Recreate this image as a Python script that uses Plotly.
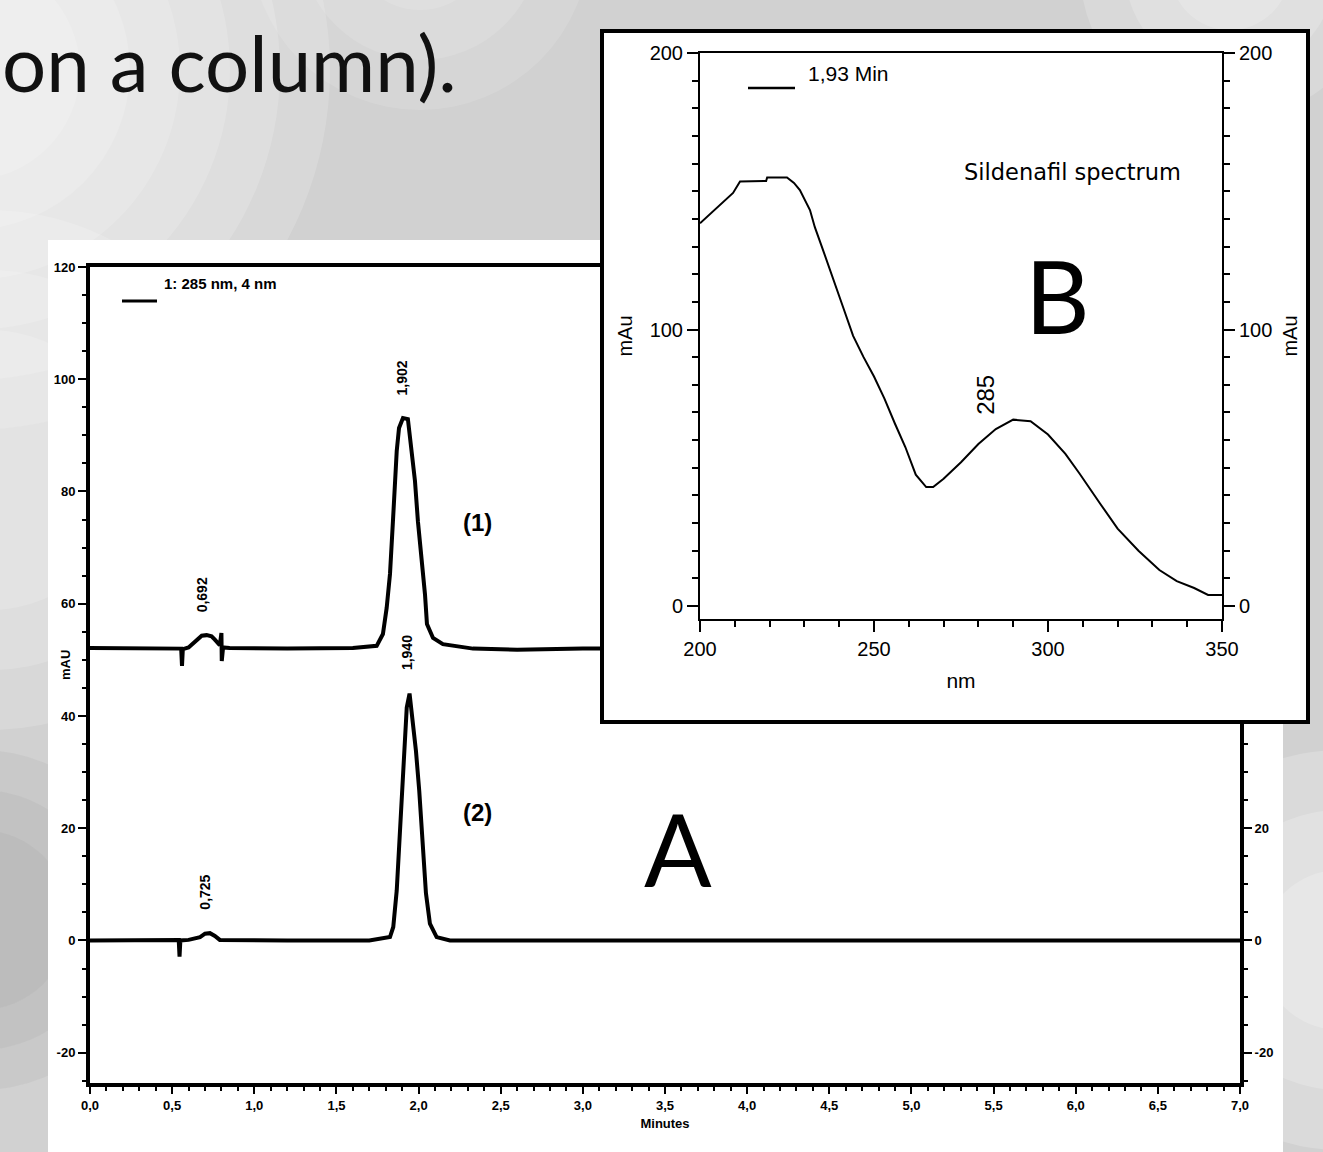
import plotly.graph_objects as go

W, H = 1323, 1152


def px(x):
    return x / W


def py(y):
    return 1 - y / H


# ---------------- chromatogram (A) data ----------------
time_1 = [0.00, 0.50, 0.555, 0.560, 0.565, 0.60, 0.65, 0.68, 0.71, 0.74, 0.76, 0.79,
          0.800, 0.802, 0.81, 0.85, 1.20, 1.60, 1.745, 1.783, 1.806, 1.826, 1.844,
          1.856, 1.867, 1.881, 1.905, 1.935, 1.958, 1.978, 1.996, 2.019, 2.039, 2.051,
          2.088, 2.148, 2.331, 2.60, 3.00, 4.00, 5.00, 6.00, 7.00]
mau_1 = [52.1, 52.1, 52.0, 48.9, 51.9, 52.2, 53.6, 54.3, 54.4, 54.2, 53.6, 52.6,
         54.8, 49.8, 52.2, 52.1, 52.0, 52.1, 52.5, 54.6, 59.3, 65.3, 74.7,
         81.9, 87.2, 91.3, 93.1, 92.9, 87.7, 81.9, 74.7, 68.1, 61.7, 56.4,
         53.9, 52.8, 52.0, 51.8, 52.0, 52.0, 52.0, 52.0, 52.0]

time_2 = [0.00, 0.45, 0.540, 0.545, 0.550, 0.60, 0.67, 0.70, 0.73, 0.76, 0.79, 1.20,
          1.70, 1.826, 1.846, 1.867, 1.883, 1.897, 1.911, 1.928, 1.945, 1.964, 1.984,
          2.004, 2.025, 2.045, 2.069, 2.110, 2.191, 3.0, 4.0, 5.0, 6.0, 7.0]
mau_2 = [0.0, 0.0, 0.1, -2.9, 0.0, 0.1, 0.6, 1.2, 1.3, 0.8, 0.1, 0.0,
         0.0, 0.6, 2.4, 8.9, 17.8, 26.7, 34.4, 41.5, 44.0, 39.7, 33.8,
         26.7, 17.8, 8.4, 3.0, 0.6, 0.0, 0.0, 0.0, 0.0, 0.0, 0.0]

# peak annotations: label position (min), apex height (mAU), text
label_t_1 = [0.68, 1.905]
apex_mau_1 = [54.4, 93.1]
label_text_1 = ["0,692", "1,902"]
label_t_2 = [0.70, 1.93]
apex_mau_2 = [1.3, 44.0]
label_text_2 = ["0,725", "1,940"]

x_tick_vals = [0.0, 0.5, 1.0, 1.5, 2.0, 2.5, 3.0, 3.5, 4.0, 4.5, 5.0, 5.5, 6.0, 6.5, 7.0]
x_tick_text = ["0,0", "0,5", "1,0", "1,5", "2,0", "2,5", "3,0", "3,5", "4,0", "4,5",
               "5,0", "5,5", "6,0", "6,5", "7,0"]
y_tick_vals = [-20, 0, 20, 40, 60, 80, 100, 120]
y_tick_text = ["-20", "0", "20", "40", "60", "80", "100", "120"]

# ---------------- spectrum (B) data ----------------
wavelength = [200, 205, 209.5, 211.5, 219, 219.3, 225, 227, 228.7, 231.6, 233, 235,
              238, 241, 244, 247, 250, 253, 256, 259, 262, 265, 267, 270, 275, 280,
              285, 290, 295, 300, 305, 309, 315, 320, 326, 332, 337, 342, 346, 350]
absorbance = [138.4, 144, 149.4, 153.5, 153.7, 155, 155, 153, 150.4, 143.2, 137, 130,
              119.5, 108.5, 97.7, 90, 83, 75, 66, 57.5, 47.5, 43, 43, 46, 52, 58.6,
              64, 67.4, 66.8, 62, 55, 48, 37, 28, 20, 13, 9, 6.5, 4, 4]
nm_tick_vals = [200, 250, 300, 350]
nm_tick_text = ["200", "250", "300", "350"]
mau_tick_vals = [0, 100, 200]
mau_tick_text = ["0", "100", "200"]

# ---------------- figure ----------------
BOLD = "Liberation Sans, Arial, sans-serif"
PLAIN = "Liberation Sans, Arial, sans-serif"
SLIDE = "Lato, Open Sans, sans-serif"

fig = go.Figure()
fig.add_trace(go.Scatter(x=time_1, y=mau_1, mode="lines", name="(1)",
                         line=dict(color="black", width=4), xaxis="x", yaxis="y",
                         hoverinfo="skip"))
fig.add_trace(go.Scatter(x=time_2, y=mau_2, mode="lines", name="(2)",
                         line=dict(color="black", width=4), xaxis="x", yaxis="y2",
                         hoverinfo="skip"))
# empty trace that holds the inset frame subplot
fig.add_trace(go.Scatter(x=[], y=[], xaxis="x3", yaxis="y3", hoverinfo="skip"))
fig.add_trace(go.Scatter(x=wavelength, y=absorbance, mode="lines", name="1,93 Min",
                         line=dict(color="black", width=2), xaxis="x4", yaxis="y4",
                         hoverinfo="skip"))
fig.add_trace(go.Scatter(x=[], y=[], xaxis="x4", yaxis="y5", hoverinfo="skip"))

ax_common = dict(showgrid=False, zeroline=False, showline=True, linecolor="black",
                 tickcolor="black", fixedrange=True, automargin=False)
tickfont_a = dict(family=BOLD, size=13, color="black", weight="bold")
tickfont_b = dict(family=PLAIN, size=20, color="black")

yA = dict(domain=[py(1083), py(267)], range=[-25.4, 120], linewidth=4,
          ticks="outside", ticklen=8, tickwidth=2, tickmode="array",
          tickvals=y_tick_vals, ticktext=y_tick_text, tickfont=tickfont_a,
          minor=dict(ticks="outside", ticklen=4, tickwidth=2, tickcolor="black",
                     tickmode="linear", tick0=0, dtick=5), **ax_common)
yB = dict(domain=[py(619), py(53)], range=[-4.7, 200], linewidth=2,
          ticks="outside", ticklen=11, tickwidth=2, tickmode="array",
          tickvals=mau_tick_vals, ticktext=mau_tick_text, tickfont=tickfont_b,
          minor=dict(ticks="outside", ticklen=6, tickwidth=2, tickcolor="black",
                     tickmode="linear", tick0=0, dtick=10),
          title=dict(text="mAu", font=dict(family=PLAIN, size=20, color="black"),
                     standoff=12), **ax_common)

fig.update_layout(
    width=W, height=H, autosize=False,
    margin=dict(l=0, r=0, t=0, b=0, pad=0),
    paper_bgcolor="#d1d1d1", plot_bgcolor="white",
    showlegend=False,
    xaxis=dict(domain=[px(90), px(1240)], range=[0, 7], anchor="y", linewidth=4,
               mirror=True, ticks="outside", ticklen=7, tickwidth=2,
               tickmode="array", tickvals=x_tick_vals, ticktext=x_tick_text,
               tickfont=tickfont_a,
               minor=dict(ticks="outside", ticklen=4, tickwidth=2, tickcolor="black",
                          tickmode="linear", tick0=0, dtick=0.1),
               title=dict(text="Minutes", font=dict(family=BOLD, size=13,
                                                    color="black", weight="bold"),
                          standoff=8),
               **ax_common),
    yaxis=dict(anchor="x", side="left", **yA),
    yaxis2=dict(anchor="x", side="right", overlaying="y", **yA),
    xaxis3=dict(domain=[px(604), px(1306)], range=[0, 1], anchor="y3", linewidth=4,
                mirror=True, ticks="", showticklabels=False, **ax_common),
    yaxis3=dict(domain=[py(720), py(33)], range=[0, 1], anchor="x3", linewidth=4,
                mirror=True, ticks="", showticklabels=False, **ax_common),
    xaxis4=dict(domain=[px(700), px(1222)], range=[200, 350], anchor="y4",
                linewidth=2, mirror=True, ticks="outside", ticklen=11, tickwidth=2,
                tickmode="array", tickvals=nm_tick_vals, ticktext=nm_tick_text,
                tickfont=tickfont_b,
                minor=dict(ticks="outside", ticklen=6, tickwidth=2, tickcolor="black",
                           tickmode="linear", tick0=200, dtick=10),
                title=dict(text="nm", font=dict(family=PLAIN, size=21, color="black"),
                           standoff=14),
                **ax_common),
    yaxis4=dict(anchor="x4", side="left", **yB),
    yaxis5=dict(anchor="x4", side="right", overlaying="y4", **yB),
)

# ---------------- background shapes (soft slide backdrop) ----------------
shapes = []


def glow(cx, cy, radii, color, opacity):
    for r in radii:
        shapes.append(dict(type="circle", xref="paper", yref="paper",
                           x0=px(cx - r), x1=px(cx + r), y0=py(cy + r), y1=py(cy - r),
                           fillcolor=color, opacity=opacity, line_width=0,
                           layer="below"))


glow(-30, 70, [360, 310, 260, 210, 160, 110], "#ffffff", 0.16)
glow(420, -60, [170, 120, 70], "#ffffff", 0.12)
glow(1230, -30, [150, 105, 60], "#ffffff", 0.18)
glow(-20, 920, [170, 130, 90], "#9a9a9a", 0.14)
glow(-10, 470, [260, 200, 140], "#ffffff", 0.16)
glow(1340, 950, [200, 140, 80], "#ffffff", 0.2)

shapes += [
    # white page behind chromatogram
    dict(type="rect", xref="paper", yref="paper", x0=px(48), x1=px(1283),
         y0=0, y1=py(240), fillcolor="white", line_width=0, layer="below"),
    # legend-style line samples
    dict(type="line", xref="paper", yref="paper", x0=px(122), x1=px(157),
         y0=py(301), y1=py(301), line=dict(color="black", width=3), layer="above"),
    dict(type="line", xref="paper", yref="paper", x0=px(748), x1=px(795),
         y0=py(88), y1=py(88), line=dict(color="black", width=2.5), layer="above"),
]
fig.update_layout(shapes=shapes)

# ---------------- annotations ----------------
def note(x, y, text, font, xref="paper", yref="paper", xanchor="center",
         yanchor="middle", **kw):
    return dict(x=x, y=y, xref=xref, yref=yref, text=text, showarrow=False,
                xanchor=xanchor, yanchor=yanchor, font=font, **kw)


bold14 = dict(family=BOLD, size=14, color="black", weight="bold")
ann = []
for t, a, s in zip(label_t_1, apex_mau_1, label_text_1):
    ann.append(note(t, a, s, bold14, xref="x", yref="y", yanchor="bottom",
                    textangle=-90, yshift=21))
for t, a, s in zip(label_t_2, apex_mau_2, label_text_2):
    ann.append(note(t, a, s, bold14, xref="x", yref="y2", yanchor="bottom",
                    textangle=-90, yshift=21))
big_bold = dict(family=BOLD, size=24, color="black", weight="bold")
ann += [
    note(2.36, 74.4, "(1)", big_bold, xref="x", yref="y"),
    note(2.36, 22.8, "(2)", big_bold, xref="x", yref="y"),
    note(px(220), py(283), "1: 285 nm, 4 nm",
         dict(family=BOLD, size=15, color="black", weight="bold")),
    note(px(65), py(665), "mAU", dict(family=BOLD, size=13, color="black",
                                      weight="bold"), textangle=-90),
    note(px(678), py(848), "A", dict(family=SLIDE, size=100, color="black")),
    note(px(1057), py(295), "B", dict(family=SLIDE, size=100, color="black")),
    note(px(806), py(73), "1,93 Min", dict(family=PLAIN, size=21, color="black"),
         xanchor="left"),
    note(px(962), py(172), "Sildenafil spectrum",
         dict(family="DejaVu Sans, sans-serif", size=22.5, color="black"),
         xanchor="left"),
    note(282, 76.5, "285", dict(family=PLAIN, size=24, color="black"),
         xref="x4", yref="y4", textangle=-90),
    note(px(0), py(62), "on a column).",
         dict(family=SLIDE, size=78, color="#111111"), xanchor="left"),
]
fig.update_layout(annotations=ann)

fig.write_html("out.html", config={"displayModeBar": False},
               post_script="document.body.style.margin='0';")
